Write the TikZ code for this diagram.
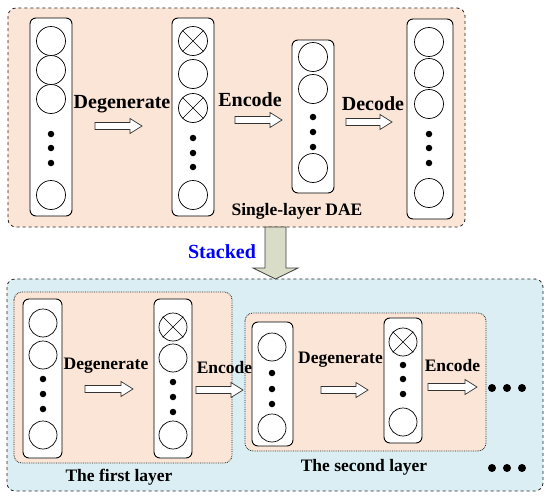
\documentclass[tikz,border=0pt]{standalone}
\usepackage{fontspec}
\setmainfont{Liberation Serif}
\begin{document}
\begin{tikzpicture}[x=1pt,y=-1pt,
  col/.style={draw=black,line width=0.9pt,rounded corners=6pt,fill=white,inner sep=0pt},
  neuron/.style={circle,draw=black,line width=0.7pt,fill=white,minimum size=29pt,inner sep=0pt},
  dotn/.style={circle,fill=black,minimum size=6.5pt,inner sep=0pt},
  bigdot/.style={circle,fill=black,minimum size=8pt,inner sep=0pt},
  lbl/.style={font=\bfseries\fontsize{20}{22}\selectfont,inner sep=0pt},
  slbl/.style={font=\bfseries\fontsize{17.5}{20}\selectfont,inner sep=0pt},
  blk/.style={draw=black!80,line width=0.7pt,fill=white},
  peach/.style={fill=peachc,rounded corners=8pt},
]
\definecolor{peachc}{HTML}{FBE5D6}
\definecolor{bluec}{HTML}{DAEEF3}
\definecolor{stackc}{HTML}{D9DCC6}
\newcommand{\barrow}[3]{\draw[blk] (#1,#3-3.5) -- (#2-12,#3-3.5) -- (#2-12,#3-7.5) -- (#2,#3) -- (#2-12,#3+7.5) -- (#2-12,#3+3.5) -- (#1,#3+3.5) -- cycle;}
\newcommand{\crossn}[1]{\draw[line width=0.7pt] (#1.north west) -- (#1.south east) (#1.north east) -- (#1.south west);}
\useasboundingbox (0,0) rectangle (550,498);
\fill[white] (0,0) rectangle (550,498);

% ---------- top box ----------
\draw[peach,draw=black!85,dashed,line width=0.8pt] (8,8) rectangle (465,227);

\node[col,minimum width=42pt,minimum height=198pt] (t1) at (51,117) {};
\node[neuron] (t1a) at (51,41) {};
\node[neuron] (t1b) at (51,70) {};
\node[neuron] (t1c) at (51,99) {};
\node[dotn] (t1d) at (51,134) {};
\node[dotn] (t1e) at (51,148) {};
\node[dotn] (t1f) at (51,163) {};
\node[neuron] (t1g) at (51,195) {};

\node[col,minimum width=42pt,minimum height=198pt] (t2) at (193,117) {};
\node[neuron] (t2a) at (193,41) {}; \crossn{t2a}
\node[neuron] (t2b) at (193,74) {};
\node[neuron] (t2c) at (193,108) {}; \crossn{t2c}
\node[dotn] (t2d) at (193,138) {};
\node[dotn] (t2e) at (193,153) {};
\node[dotn] (t2f) at (193,167) {};
\node[neuron] (t2g) at (193,195) {};

\node[col,minimum width=42pt,minimum height=153pt] (t3) at (313,116.5) {};
\node[neuron] (t3a) at (313,57) {};
\node[neuron] (t3b) at (313,89) {};
\node[dotn] (t3d) at (313,117) {};
\node[dotn] (t3e) at (313,132) {};
\node[dotn] (t3f) at (313,147) {};
\node[neuron] (t3g) at (313,168) {};

\node[col,minimum width=46pt,minimum height=200pt] (t4) at (430,119) {};
\node[neuron] (t4a) at (429,42) {};
\node[neuron] (t4b) at (429,73) {};
\node[neuron] (t4c) at (429,104) {};
\node[dotn] (t4d) at (429,134) {};
\node[dotn] (t4e) at (429,148) {};
\node[dotn] (t4f) at (429,163) {};
\node[neuron] (t4g) at (429,193) {};

\node[lbl] (deg1) at (122,104) {Degenerate};
\node[lbl] (enc1) at (250,100) {Encode};
\node[lbl] (dec1) at (373,104) {Decode};
\node[slbl] (sdae) at (297,211) {Single-layer DAE};
\barrow{95}{142}{126}
\barrow{235}{282}{120}
\barrow{346}{392}{122}

% ---------- stacked arrow ----------
\node[font=\bfseries\fontsize{20}{22}\selectfont,text=blue,inner sep=0pt] (stk) at (222,252) {Stacked};

% ---------- bottom box ----------
\draw[fill=bluec,rounded corners=8pt,draw=black!85,dashed,line width=0.8pt] (7,279) rectangle (543,491);
\draw[draw=black!75,fill=stackc,line width=0.8pt] (265,227) -- (286,227) -- (286,268) -- (298,268) -- (275.5,279) -- (253,268) -- (265,268) -- cycle;

\draw[peach,draw=black!85,densely dotted,line width=0.8pt] (14,292) rectangle (232,463);
\draw[peach,draw=black!85,densely dotted,line width=0.8pt] (245,313) rectangle (486,451);

\node[col,minimum width=39pt,minimum height=159pt] (b1) at (42.5,378.5) {};
\node[neuron,minimum size=28pt] (b1a) at (43,323) {};
\node[neuron,minimum size=28pt] (b1b) at (43,355) {};
\node[dotn] (b1d) at (43,379) {};
\node[dotn] (b1e) at (43,394) {};
\node[dotn] (b1f) at (43,409) {};
\node[neuron,minimum size=28pt] (b1g) at (43,435) {};

\node[col,minimum width=38pt,minimum height=159pt] (b2) at (173,378.5) {};
\node[neuron,minimum size=28pt] (b2a) at (173,327) {}; \crossn{b2a}
\node[neuron,minimum size=28pt] (b2b) at (173,358) {};
\node[dotn] (b2d) at (173,382) {};
\node[dotn] (b2e) at (173,397) {};
\node[dotn] (b2f) at (173,412) {};
\node[neuron,minimum size=28pt] (b2g) at (173,435) {};

\node[col,minimum width=41pt,minimum height=124pt] (b3) at (272.5,384) {};
\node[neuron,minimum size=28pt] (b3a) at (272,347) {};
\node[dotn] (b3d) at (272,373) {};
\node[dotn] (b3e) at (272,389) {};
\node[dotn] (b3f) at (272,404) {};
\node[neuron,minimum size=28pt] (b3g) at (272,428) {};

\node[col,minimum width=38pt,minimum height=125pt] (b4) at (403,380.5) {};
\node[neuron,minimum size=28pt] (b4a) at (403,342) {}; \crossn{b4a}
\node[dotn] (b4d) at (403,365) {};
\node[dotn] (b4e) at (403,379) {};
\node[dotn] (b4f) at (403,394) {};
\node[neuron,minimum size=28pt] (b4g) at (403,422) {};

\node[slbl] (deg2) at (106,366) {Degenerate};
\node[slbl] (enc2) at (224.5,368) {Encode};
\node[slbl] (deg3) at (340.5,360) {Degenerate};
\node[slbl] (enc3) at (452.5,366) {Encode};
\barrow{85}{133}{389}
\barrow{196}{243}{390}
\barrow{321}{368}{390}
\barrow{428}{477}{387}

\node[bigdot] (m1) at (492,388) {};
\node[bigdot] (m2) at (507,388) {};
\node[bigdot] (m3) at (522,388) {};
\node[bigdot] (n1) at (492,468) {};
\node[bigdot] (n2) at (507,468) {};
\node[bigdot] (n3) at (522,468) {};

\node[slbl] (fl) at (119,477) {The first layer};
\node[slbl] (sl) at (364,467) {The second layer};
\end{tikzpicture}
\end{document}
